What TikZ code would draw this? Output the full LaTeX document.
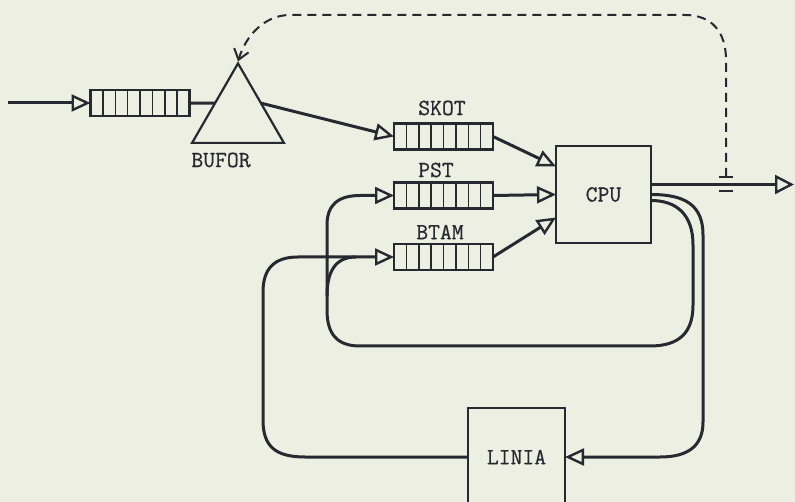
\documentclass[tikz,border=0pt]{standalone}
\usepackage{fontspec}
\newfontfamily\tw{Latin Modern Mono}[FakeBold=0.6]
\usetikzlibrary{arrows.meta,shapes.geometric,calc}
\definecolor{paper}{RGB}{237,239,226}
\definecolor{ink}{RGB}{40,40,48}
\begin{document}
\begin{tikzpicture}[x=1pt,y=-1pt,
  conn/.style={draw=ink, line width=3pt, -{Triangle[open,length=19pt,width=17pt,line width=2.4pt]}},
  bigconn/.style={draw=ink, line width=3pt, -{Triangle[open,length=19pt,width=19pt,line width=2.4pt]}},
  plain/.style={draw=ink, line width=3pt},
  queue/.style={draw=ink, fill=paper, line width=2.2pt, minimum width=99pt, minimum height=26pt,
    inner sep=0pt, outer sep=0pt,
    path picture={\foreach \i in {1,...,7}{\draw[ink,line width=1.5pt]
      ($(path picture bounding box.south west)!\i/8!(path picture bounding box.south east)$) --
      ($(path picture bounding box.north west)!\i/8!(path picture bounding box.north east)$);}}},
  lab/.style={font=\tw\bfseries\fontsize{23}{23}\selectfont, text=ink, inner sep=0pt},
  box/.style={draw=ink, line width=1.8pt, fill=paper, inner sep=0pt, outer sep=0pt,
    font=\tw\bfseries\fontsize{23}{23}\selectfont, text=ink},
  sensor/.style={draw=ink, line width=2pt, dash pattern=on 9pt off 6pt,
    -{Straight Barb[length=10pt,width=15pt,line width=2pt]}},
]
\fill[paper] (0,0) rectangle (795,502);
\useasboundingbox (0,0) rectangle (795,502);

% nodes
\node[queue] (q0) at (140,103) {};
\node[regular polygon, regular polygon sides=3, draw=ink, line width=2.2pt,
  minimum size=106pt, inner sep=0pt, outer sep=0pt] (buf) at (238,116.4) {};
\node[lab] (buflab) at (221,160) {BUFOR};
\node[queue] (skot) at (443.5,136.5) {};
\node[lab] (skotlab) at (442,108) {SKOT};
\node[queue] (pst) at (443.5,195.5) {};
\node[lab] (pstlab) at (436,170) {PST};
\node[queue] (btam) at (443.5,257) {};
\node[lab] (btamlab) at (440,232) {BTAM};
\node[box, minimum width=95pt, minimum height=97pt] (cpu) at (603.5,194.5) {CPU};
\node[box, minimum width=97pt, minimum height=98pt] (linia) at (516.5,457) {LINIA};

\coordinate (in) at (8,103);
\coordinate (out) at (794,184.5);
\coordinate (sens) at (726,177);

% main flow
\draw[conn] (in) -- (q0.west);
\draw[plain] (q0.east) -- (buf.side 1);
\draw[conn] (buf.side 3) -- (skot.west);
\draw[conn] (skot.east) -- ([yshift=28pt]cpu.west);
\draw[conn] (pst.east) -- (cpu.west);
\draw[conn] (btam.east) -- ([yshift=-23pt]cpu.west);
\draw[bigconn] ([yshift=10pt]cpu.east) -- (out);

% outer loop: CPU -> LINIA -> BTAM
\draw[conn] (cpu.east) .. controls (685,194.5) and (703,205) .. (703,235)
  -- (703,422) .. controls (703,446) and (688,457) .. (660,457) -- (linia.east);
\draw[conn] (linia.west) -- (305,457) .. controls (275,457) and (263,446) .. (263,420)
  -- (263,292) .. controls (263,268) and (275,257) .. (298,257) -- (btam.west);

% inner loop: CPU -> PST (and BTAM)
\draw[conn] ([yshift=-6pt]cpu.east) .. controls (677,200.5) and (693,215) .. (693,245)
  -- (693,305) .. controls (693,332) and (680,346) .. (650,346)
  -- (360,346) .. controls (337,346) and (327,334) .. (327,310)
  -- (327,225) .. controls (327,205) and (338,195.5) .. (360,195.5) -- (pst.west);
\draw[plain] (327,296) .. controls (327,272) and (335,257) .. (356,257);

% control (dashed) line from sensor to BUFOR
\draw[sensor] (sens) -- (726,60) .. controls (726,32) and (712,15) .. (685,15)
  -- (290,15) .. controls (265,15) and (246,35) .. ([yshift=2pt]buf.corner 1);
\draw[ink, line width=2.2pt] (719,177) -- (733,177) (719,191) -- (733,191);
\end{tikzpicture}
\end{document}
